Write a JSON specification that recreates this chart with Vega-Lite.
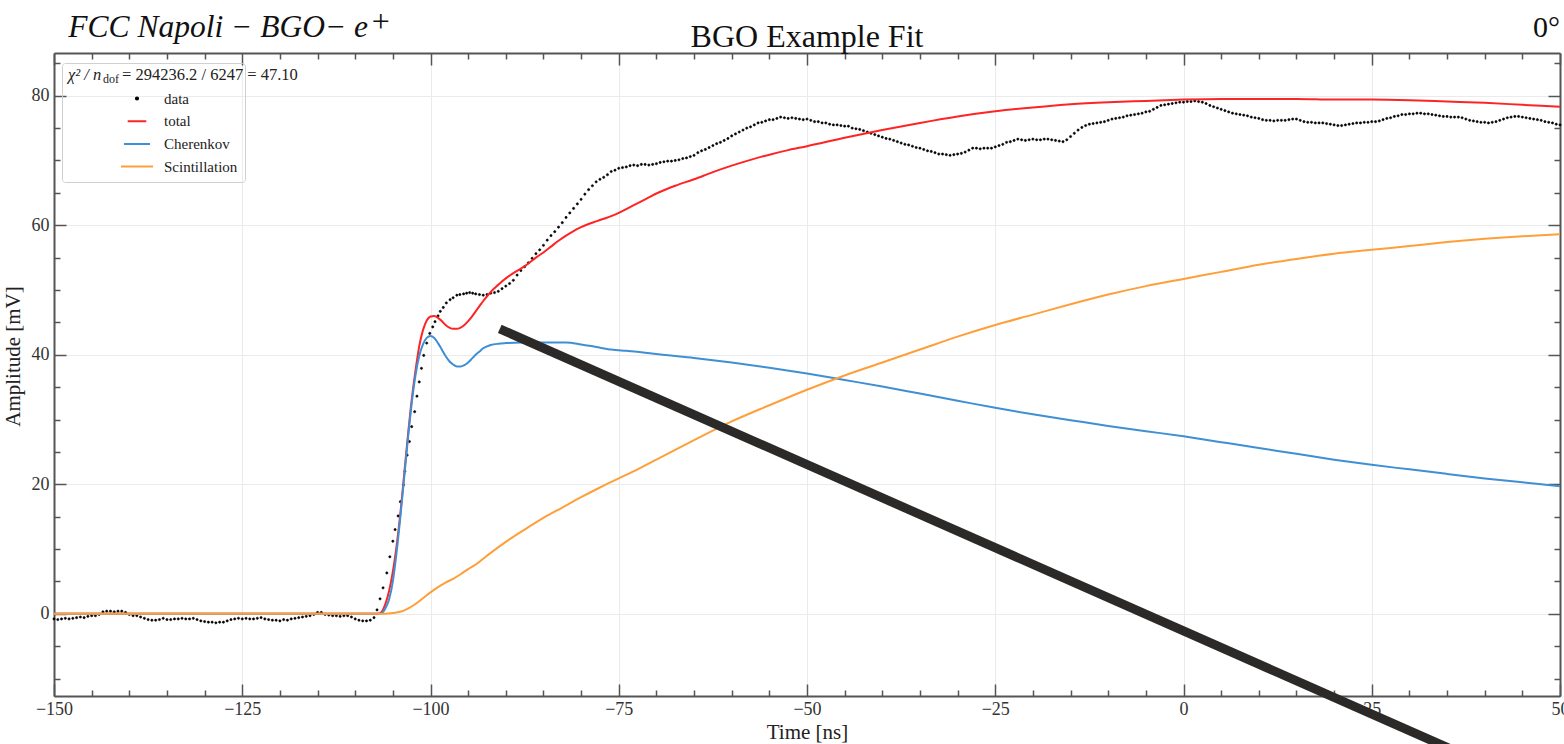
{
  "$schema": "https://vega.github.io/schema/vega-lite/v6.json",
  "width": 1506,
  "height": 643,
  "autosize": {"type": "none"},
  "padding": {"left": 54, "top": 53, "right": 4, "bottom": 48},
  "background": "white",
  "config": {"font": "Liberation Serif", "view": {"stroke": null}},
  "datasets": {
    "measured": [
      {"t":-150,"v":-0.8},{"t":-149.5,"v":-0.9},{"t":-149,"v":-0.8},{"t":-148.5,"v":-0.7},{"t":-148,"v":-0.8},{"t":-147.5,"v":-0.7},{"t":-147,"v":-0.6},{"t":-146.5,"v":-0.5},{"t":-146,"v":-0.6},{"t":-145.5,"v":-0.4},{"t":-145,"v":-0.3},{"t":-144.5,"v":-0.3},{"t":-144,"v":-0.1},{"t":-143.5,"v":0.3},{"t":-143,"v":0.4},{"t":-142.5,"v":0.4},{"t":-142,"v":0.3},{"t":-141.5,"v":0.4},{"t":-141,"v":0.4},{"t":-140.5,"v":0.2},{"t":-140,"v":-0.1},{"t":-139.5,"v":-0.3},{"t":-139,"v":-0.3},{"t":-138.5,"v":-0.5},{"t":-138,"v":-0.7},{"t":-137.5,"v":-0.9},{"t":-137,"v":-1.0},{"t":-136.5,"v":-1.0},{"t":-136,"v":-0.9},{"t":-135.5,"v":-0.7},{"t":-135,"v":-0.9},{"t":-134.5,"v":-0.9},{"t":-134,"v":-0.8},{"t":-133.5,"v":-0.8},{"t":-133,"v":-0.7},{"t":-132.5,"v":-0.8},{"t":-132,"v":-0.8},{"t":-131.5,"v":-0.7},{"t":-131,"v":-0.9},{"t":-130.5,"v":-1.1},{"t":-130,"v":-1.2},{"t":-129.5,"v":-1.3},{"t":-129,"v":-1.3},{"t":-128.5,"v":-1.4},{"t":-128,"v":-1.3},{"t":-127.5,"v":-1.3},{"t":-127,"v":-1.1},{"t":-126.5,"v":-0.9},{"t":-126,"v":-0.8},{"t":-125.5,"v":-0.7},{"t":-125,"v":-0.8},{"t":-124.5,"v":-0.7},{"t":-124,"v":-0.8},{"t":-123.5,"v":-0.8},{"t":-123,"v":-0.7},{"t":-122.5,"v":-0.6},{"t":-122,"v":-0.8},{"t":-121.5,"v":-0.9},{"t":-121,"v":-1.0},{"t":-120.5,"v":-1.0},{"t":-120,"v":-1.1},{"t":-119.5,"v":-0.9},{"t":-119,"v":-1.0},{"t":-118.5,"v":-0.8},{"t":-118,"v":-0.7},{"t":-117.5,"v":-0.6},{"t":-117,"v":-0.5},{"t":-116.5,"v":-0.4},{"t":-116,"v":-0.3},{"t":-115.5,"v":-0.1},{"t":-115,"v":0.2},{"t":-114.5,"v":0.2},{"t":-114,"v":-0.1},{"t":-113.5,"v":-0.2},{"t":-113,"v":-0.3},{"t":-112.5,"v":-0.3},{"t":-112,"v":-0.4},{"t":-111.5,"v":-0.3},{"t":-111,"v":-0.3},{"t":-110.5,"v":-0.5},{"t":-110,"v":-0.8},{"t":-109.5,"v":-1.0},{"t":-109,"v":-1.1},{"t":-108.5,"v":-1.1},{"t":-108,"v":-1.0},{"t":-107.5,"v":-0.6},
      {"t":-107.1,"v":0.6},{"t":-106.7,"v":2.3},{"t":-106.3,"v":4.0},{"t":-105.8,"v":6.3},{"t":-105.4,"v":8.8},{"t":-105.0,"v":11.2},{"t":-104.7,"v":13.0},{"t":-104.3,"v":15.1},{"t":-104.0,"v":17.3},{"t":-103.6,"v":19.9},{"t":-103.4,"v":22.0},{"t":-103.1,"v":24.5},{"t":-102.8,"v":26.6},{"t":-102.5,"v":28.9},{"t":-102.1,"v":31.2},{"t":-101.8,"v":33.6},{"t":-101.5,"v":35.8},{"t":-101.2,"v":37.9},{"t":-100.9,"v":39.9},{"t":-100.5,"v":41.8},{"t":-100.1,"v":43.3},{"t":-99.7,"v":44.3},{"t":-99.4,"v":45.1},{"t":-99.0,"v":46.0},{"t":-98.7,"v":46.7},{"t":-98.3,"v":47.3},{"t":-97.9,"v":48.0},{"t":-97.4,"v":48.5},{"t":-97.0,"v":48.8},{"t":-96.5,"v":49.2},{"t":-96.1,"v":49.3},{"t":-95.6,"v":49.4},{"t":-95.2,"v":49.5},{"t":-94.8,"v":49.6},{"t":-94.4,"v":49.5},{"t":-94.0,"v":49.4},{"t":-93.5,"v":49.3},{"t":-93.0,"v":49.2},{"t":-92.5,"v":49.3},{"t":-92.0,"v":49.5},{"t":-91.5,"v":49.6},{"t":-91.0,"v":49.8},{"t":-90.5,"v":50.2},{"t":-90.0,"v":50.6},
      {"t":-89.5,"v":51.0},{"t":-89,"v":51.5},{"t":-88.5,"v":52.3},{"t":-88,"v":53.0},{"t":-87.5,"v":53.6},{"t":-87,"v":54.2},{"t":-86.5,"v":54.9},{"t":-86,"v":55.6},{"t":-85.5,"v":56.2},{"t":-85,"v":56.9},{"t":-84.5,"v":57.7},{"t":-84,"v":58.4},{"t":-83.5,"v":59.0},{"t":-83,"v":59.7},{"t":-82.5,"v":60.4},{"t":-82,"v":61.2},{"t":-81.5,"v":61.9},{"t":-81,"v":62.6},{"t":-80.5,"v":63.3},{"t":-80,"v":64.0},{"t":-79.5,"v":64.8},{"t":-79,"v":65.5},{"t":-78.5,"v":66.1},{"t":-78,"v":66.7},{"t":-77.5,"v":67.1},{"t":-77,"v":67.4},{"t":-76.5,"v":67.8},{"t":-76,"v":68.3},{"t":-75.5,"v":68.5},{"t":-75,"v":68.8},{"t":-74.5,"v":68.9},{"t":-74,"v":69.0},{"t":-73.5,"v":69.2},{"t":-73,"v":69.3},{"t":-72.5,"v":69.2},{"t":-72,"v":69.4},{"t":-71.5,"v":69.4},{"t":-71,"v":69.3},{"t":-70.5,"v":69.4},{"t":-70,"v":69.5},{"t":-69.5,"v":69.7},{"t":-69,"v":69.8},{"t":-68.5,"v":69.9},{"t":-68,"v":69.9},{"t":-67.5,"v":70.0},{"t":-67,"v":70.1},{"t":-66.5,"v":70.3},{"t":-66,"v":70.4},{"t":-65.5,"v":70.6},{"t":-65,"v":70.8},{"t":-64.5,"v":71.2},{"t":-64,"v":71.5},{"t":-63.5,"v":71.7},{"t":-63,"v":72.0},{"t":-62.5,"v":72.3},{"t":-62,"v":72.6},{"t":-61.5,"v":72.8},{"t":-61,"v":73.1},{"t":-60.5,"v":73.4},{"t":-60,"v":73.8},{"t":-59.5,"v":74.1},{"t":-59,"v":74.4},{"t":-58.5,"v":74.7},{"t":-58,"v":75.0},{"t":-57.5,"v":75.2},{"t":-57,"v":75.5},{"t":-56.5,"v":75.8},{"t":-56,"v":75.9},{"t":-55.5,"v":76.1},{"t":-55,"v":76.3},{"t":-54.5,"v":76.3},{"t":-54,"v":76.5},{"t":-53.5,"v":76.7},{"t":-53,"v":76.6},{"t":-52.5,"v":76.5},{"t":-52,"v":76.6},{"t":-51.5,"v":76.5},{"t":-51,"v":76.4},{"t":-50.5,"v":76.3},{"t":-50,"v":76.4},{"t":-49.5,"v":76.2},{"t":-49,"v":76.0},{"t":-48.5,"v":76.0},{"t":-48,"v":75.8},{"t":-47.5,"v":75.8},{"t":-47,"v":75.6},{"t":-46.5,"v":75.5},{"t":-46,"v":75.5},{"t":-45.5,"v":75.4},{"t":-45,"v":75.3},{"t":-44.5,"v":75.3},{"t":-44,"v":75.0},{"t":-43.5,"v":74.9},{"t":-43,"v":74.8},{"t":-42.5,"v":74.6},{"t":-42,"v":74.4},{"t":-41.5,"v":74.2},{"t":-41,"v":74.0},{"t":-40.5,"v":73.8},{"t":-40,"v":73.6},{"t":-39.5,"v":73.4},{"t":-39,"v":73.3},{"t":-38.5,"v":73.1},{"t":-38,"v":72.9},{"t":-37.5,"v":72.7},{"t":-37,"v":72.5},{"t":-36.5,"v":72.4},{"t":-36,"v":72.2},{"t":-35.5,"v":72.0},{"t":-35,"v":71.9},{"t":-34.5,"v":71.7},{"t":-34,"v":71.5},{"t":-33.5,"v":71.4},{"t":-33,"v":71.2},{"t":-32.5,"v":71.0},{"t":-32,"v":71.0},{"t":-31.5,"v":70.9},{"t":-31,"v":70.8},{"t":-30.5,"v":70.9},{"t":-30,"v":71.0},{"t":-29.5,"v":71.1},{"t":-29,"v":71.3},{"t":-28.5,"v":71.6},{"t":-28,"v":71.9},{"t":-27.5,"v":71.9},{"t":-27,"v":71.8},{"t":-26.5,"v":71.9},{"t":-26,"v":71.9},{"t":-25.5,"v":71.9},{"t":-25,"v":72.1},{"t":-24.5,"v":72.3},{"t":-24,"v":72.5},{"t":-23.5,"v":72.8},{"t":-23,"v":72.9},{"t":-22.5,"v":73.1},{"t":-22,"v":73.3},{"t":-21.5,"v":73.2},{"t":-21,"v":73.1},{"t":-20.5,"v":73.2},{"t":-20,"v":73.3},{"t":-19.5,"v":73.2},{"t":-19,"v":73.2},{"t":-18.5,"v":73.3},{"t":-18,"v":73.3},{"t":-17.5,"v":73.2},{"t":-17,"v":73.1},{"t":-16.5,"v":73.0},{"t":-16,"v":72.9},{"t":-15.5,"v":73.2},{"t":-15,"v":73.7},{"t":-14.5,"v":74.2},{"t":-14,"v":74.7},{"t":-13.5,"v":75.1},{"t":-13,"v":75.4},{"t":-12.5,"v":75.6},{"t":-12,"v":75.7},{"t":-11.5,"v":75.8},{"t":-11,"v":75.9},{"t":-10.5,"v":76.0},{"t":-10,"v":76.2},{"t":-9.5,"v":76.4},{"t":-9,"v":76.5},{"t":-8.5,"v":76.6},{"t":-8,"v":76.7},{"t":-7.5,"v":76.9},{"t":-7,"v":77.0},{"t":-6.5,"v":77.1},{"t":-6,"v":77.2},{"t":-5.5,"v":77.3},{"t":-5,"v":77.5},{"t":-4.5,"v":77.6},{"t":-4,"v":77.9},{"t":-3.5,"v":78.2},{"t":-3,"v":78.5},{"t":-2.5,"v":78.6},{"t":-2,"v":78.7},{"t":-1.5,"v":78.8},{"t":-1,"v":78.9},{"t":-0.5,"v":79.0},{"t":0,"v":79.0},{"t":0.5,"v":79.1},{"t":1,"v":79.1},{"t":1.5,"v":79.2},{"t":2,"v":79.1},{"t":2.5,"v":79.0},{"t":3,"v":78.8},{"t":3.5,"v":78.5},{"t":4,"v":78.3},{"t":4.5,"v":78.1},{"t":5,"v":77.9},{"t":5.5,"v":77.7},{"t":6,"v":77.5},{"t":6.5,"v":77.3},{"t":7,"v":77.2},{"t":7.5,"v":77.1},{"t":8,"v":77.0},{"t":8.5,"v":76.9},{"t":9,"v":76.7},{"t":9.5,"v":76.6},{"t":10,"v":76.5},{"t":10.5,"v":76.3},{"t":11,"v":76.2},{"t":11.5,"v":76.2},{"t":12,"v":76.1},{"t":12.5,"v":76.2},{"t":13,"v":76.2},{"t":13.5,"v":76.2},{"t":14,"v":76.3},{"t":14.5,"v":76.4},{"t":15,"v":76.4},{"t":15.5,"v":76.2},{"t":16,"v":76.0},{"t":16.5,"v":75.9},{"t":17,"v":75.9},{"t":17.5,"v":75.8},{"t":18,"v":75.8},{"t":18.5,"v":75.8},{"t":19,"v":75.7},{"t":19.5,"v":75.6},{"t":20,"v":75.5},{"t":20.5,"v":75.4},{"t":21,"v":75.4},{"t":21.5,"v":75.5},{"t":22,"v":75.6},{"t":22.5,"v":75.7},{"t":23,"v":75.8},{"t":23.5,"v":75.8},{"t":24,"v":75.9},{"t":24.5,"v":75.9},{"t":25,"v":76.0},{"t":25.5,"v":76.0},{"t":26,"v":76.1},{"t":26.5,"v":76.3},{"t":27,"v":76.5},{"t":27.5,"v":76.6},{"t":28,"v":76.8},{"t":28.5,"v":76.9},{"t":29,"v":77.1},{"t":29.5,"v":77.1},{"t":30,"v":77.2},{"t":30.5,"v":77.2},{"t":31,"v":77.3},{"t":31.5,"v":77.3},{"t":32,"v":77.2},{"t":32.5,"v":77.2},{"t":33,"v":77.1},{"t":33.5,"v":77.0},{"t":34,"v":76.9},{"t":34.5,"v":76.8},{"t":35,"v":76.8},{"t":35.5,"v":76.7},{"t":36,"v":76.7},{"t":36.5,"v":76.7},{"t":37,"v":76.6},{"t":37.5,"v":76.4},{"t":38,"v":76.2},{"t":38.5,"v":76.1},{"t":39,"v":76.0},{"t":39.5,"v":75.9},{"t":40,"v":75.9},{"t":40.5,"v":75.8},{"t":41,"v":75.9},{"t":41.5,"v":76.0},{"t":42,"v":76.2},{"t":42.5,"v":76.4},{"t":43,"v":76.6},{"t":43.5,"v":76.7},{"t":44,"v":76.8},{"t":44.5,"v":76.8},{"t":45,"v":76.7},{"t":45.5,"v":76.6},{"t":46,"v":76.5},{"t":46.5,"v":76.4},{"t":47,"v":76.3},{"t":47.5,"v":76.2},{"t":48,"v":76.0},{"t":48.5,"v":75.9},{"t":49,"v":75.8},{"t":49.5,"v":75.6},{"t":50,"v":75.5}
    ],
    "total": [
      {"t":-150,"v":0},{"t":-107,"v":0},{"t":-106.5,"v":0.3},{"t":-106,"v":1.5},{"t":-105.5,"v":3.5},{"t":-105,"v":6.5},{"t":-104.5,"v":10.5},{"t":-104,"v":15.5},{"t":-103.5,"v":21.5},{"t":-103,"v":27.5},{"t":-102.5,"v":33},{"t":-102,"v":37.5},{"t":-101.5,"v":41.3},{"t":-101,"v":43.8},{"t":-100.5,"v":45.3},{"t":-100,"v":45.9},{"t":-99.5,"v":46.0},{"t":-99,"v":45.7},{"t":-98.5,"v":45.2},{"t":-98,"v":44.6},{"t":-97.5,"v":44.2},{"t":-97,"v":44.0},{"t":-96.5,"v":44.0},{"t":-96,"v":44.2},{"t":-95.5,"v":44.6},{"t":-95,"v":45.2},{"t":-94.5,"v":45.9},{"t":-94,"v":46.7},{"t":-93.5,"v":47.5},{"t":-93,"v":48.3},{"t":-92.5,"v":49.0},{"t":-92,"v":49.7},{"t":-91,"v":50.8},{"t":-90,"v":51.8},{"t":-89,"v":52.6},{"t":-88,"v":53.3},{"t":-87,"v":54.1},{"t":-86,"v":55.0},{"t":-85,"v":55.8},{"t":-84,"v":56.7},{"t":-83,"v":57.6},{"t":-82,"v":58.4},{"t":-81,"v":59.1},{"t":-80,"v":59.7},{"t":-79,"v":60.2},{"t":-78,"v":60.6},{"t":-77,"v":61.0},{"t":-76,"v":61.4},{"t":-75,"v":61.9},{"t":-74,"v":62.5},{"t":-73,"v":63.1},{"t":-72,"v":63.7},{"t":-71,"v":64.3},{"t":-70,"v":64.9},{"t":-67.5,"v":66.1},{"t":-65,"v":67.1},{"t":-62.5,"v":68.2},{"t":-60,"v":69.2},{"t":-57.5,"v":70.1},{"t":-55,"v":70.9},{"t":-52.5,"v":71.6},{"t":-50,"v":72.2},{"t":-45,"v":73.5},{"t":-40,"v":74.7},{"t":-35,"v":75.8},{"t":-30,"v":76.8},{"t":-25,"v":77.6},{"t":-20,"v":78.2},{"t":-15,"v":78.7},{"t":-10,"v":79.0},{"t":-5,"v":79.2},{"t":0,"v":79.4},{"t":5,"v":79.5},{"t":10,"v":79.5},{"t":15,"v":79.5},{"t":20,"v":79.4},{"t":25,"v":79.4},{"t":30,"v":79.3},{"t":35,"v":79.1},{"t":40,"v":78.9},{"t":45,"v":78.6},{"t":50,"v":78.3}
    ],
    "cherenkov": [
      {"t":-150,"v":0},{"t":-107,"v":0},{"t":-106.5,"v":0.1},{"t":-106,"v":0.8},{"t":-105.5,"v":2.2},{"t":-105,"v":5.0},{"t":-104.5,"v":9.5},{"t":-104,"v":15.0},{"t":-103.5,"v":21.0},{"t":-103,"v":27.0},{"t":-102.5,"v":32.5},{"t":-102,"v":36.8},{"t":-101.5,"v":39.8},{"t":-101,"v":41.6},{"t":-100.5,"v":42.6},{"t":-100,"v":42.9},{"t":-99.5,"v":42.6},{"t":-99,"v":41.8},{"t":-98.5,"v":40.8},{"t":-98,"v":39.8},{"t":-97.5,"v":39.0},{"t":-97,"v":38.5},{"t":-96.5,"v":38.2},{"t":-96,"v":38.2},{"t":-95.5,"v":38.4},{"t":-95,"v":38.8},{"t":-94.5,"v":39.4},{"t":-94,"v":40.0},{"t":-93.5,"v":40.5},{"t":-93,"v":41.0},{"t":-92.5,"v":41.3},{"t":-92,"v":41.5},{"t":-91,"v":41.7},{"t":-90,"v":41.8},{"t":-88,"v":41.9},{"t":-85,"v":41.9},{"t":-82,"v":41.9},{"t":-80,"v":41.6},{"t":-78,"v":41.2},{"t":-76,"v":40.8},{"t":-74,"v":40.6},{"t":-72,"v":40.4},{"t":-70,"v":40.1},{"t":-65,"v":39.5},{"t":-60,"v":38.8},{"t":-55,"v":38.0},{"t":-50,"v":37.1},{"t":-45,"v":36.1},{"t":-40,"v":35.1},{"t":-35,"v":34.0},{"t":-30,"v":32.9},{"t":-25,"v":31.8},{"t":-20,"v":30.8},{"t":-15,"v":29.9},{"t":-10,"v":29.0},{"t":-5,"v":28.2},{"t":0,"v":27.4},{"t":5,"v":26.5},{"t":10,"v":25.6},{"t":15,"v":24.7},{"t":20,"v":23.8},{"t":25,"v":23.0},{"t":30,"v":22.3},{"t":35,"v":21.6},{"t":40,"v":20.9},{"t":45,"v":20.3},{"t":50,"v":19.7}
    ],
    "scintillation": [
      {"t":-150,"v":0},{"t":-106,"v":0},{"t":-105,"v":0.1},{"t":-104,"v":0.3},{"t":-103,"v":0.8},{"t":-102,"v":1.5},{"t":-101,"v":2.4},{"t":-100,"v":3.3},{"t":-99,"v":4.1},{"t":-98,"v":4.8},{"t":-97,"v":5.4},{"t":-96,"v":6.1},{"t":-95,"v":6.9},{"t":-94,"v":7.6},{"t":-93,"v":8.5},{"t":-92,"v":9.4},{"t":-90,"v":11.1},{"t":-87.5,"v":13.0},{"t":-85,"v":14.8},{"t":-82.5,"v":16.4},{"t":-80,"v":18.0},{"t":-77.5,"v":19.5},{"t":-75,"v":20.9},{"t":-72.5,"v":22.3},{"t":-70,"v":23.8},{"t":-65,"v":26.8},{"t":-60,"v":29.7},{"t":-55,"v":32.2},{"t":-50,"v":34.6},{"t":-45,"v":36.8},{"t":-40,"v":38.8},{"t":-35,"v":40.8},{"t":-30,"v":42.8},{"t":-25,"v":44.6},{"t":-20,"v":46.2},{"t":-15,"v":47.8},{"t":-10,"v":49.3},{"t":-5,"v":50.6},{"t":0,"v":51.7},{"t":5,"v":52.8},{"t":10,"v":53.9},{"t":15,"v":54.8},{"t":20,"v":55.6},{"t":25,"v":56.2},{"t":30,"v":56.8},{"t":35,"v":57.4},{"t":40,"v":57.9},{"t":45,"v":58.3},{"t":50,"v":58.6}
    ],
    "stroke": [
      {"t":-90.8,"v":44.0},{"t":36.7,"v":-21.5}
    ]
  },
  "resolve": {"axis": {"x": "independent", "y": "independent"}},
  "layer": [
    {
      "data": {"name": "measured"},
      "mark": {"type": "point", "filled": true, "opacity": 1, "stroke": "#000000", "strokeWidth": 0.6},
      "encoding": {
        "x": {"field": "t", "type": "quantitative",
          "scale": {"domain": [-150, 50], "nice": false, "zero": false},
          "axis": {"orient": "bottom",
            "values": [-150,-145,-140,-135,-130,-125,-120,-115,-110,-105,-100,-95,-90,-85,-80,-75,-70,-65,-60,-55,-50,-45,-40,-35,-30,-25,-20,-15,-10,-5,0,5,10,15,20,25,30,35,40,45,50],
            "labelExpr": "datum.value % 25 === 0 ? datum.label : ''",
            "tickSize": {"condition": {"test": "datum.value % 25 === 0", "value": -12}, "value": -6},
            "labelPadding": 16, "labelFontSize": 18, "labelFont": "Liberation Serif", "labelColor": "#333",
            "labelOverlap": false, "labelFlush": false,
            "grid": true, "gridColor": "#ebebeb", "gridWidth": 1,
            "gridOpacity": {"condition": {"test": "datum.value % 25 === 0", "value": 1}, "value": 0},
            "domainColor": "#555", "domainWidth": 2, "tickColor": "#555", "tickWidth": 1.5,
            "title": "Time [ns]", "titleFontSize": 21, "titleFont": "Liberation Serif", "titleFontWeight": "normal", "titleColor": "#222", "titlePadding": -3}},
        "y": {"field": "v", "type": "quantitative",
          "scale": {"domain": [-12.7, 86.6], "nice": false, "zero": false},
          "axis": {"orient": "left",
            "values": [-10,-5,0,5,10,15,20,25,30,35,40,45,50,55,60,65,70,75,80,85],
            "labelExpr": "datum.value % 20 === 0 && datum.value >= 0 ? datum.label : ''",
            "tickSize": {"condition": {"test": "datum.value % 20 === 0", "value": -12}, "value": -6},
            "labelPadding": 17, "labelFontSize": 18, "labelFont": "Liberation Serif", "labelColor": "#333",
            "labelOverlap": false, "labelFlush": false,
            "grid": true, "gridColor": "#ebebeb", "gridWidth": 1,
            "gridOpacity": {"condition": {"test": "datum.value % 20 === 0", "value": 1}, "value": 0},
            "domainColor": "#555", "domainWidth": 2, "tickColor": "#555", "tickWidth": 1.5,
            "title": "Amplitude [mV]", "titleFontSize": 21, "titleFont": "Liberation Serif", "titleFontWeight": "normal", "titleColor": "#222", "titlePadding": 8, "titleY": 303}},
        "color": {"datum": "data",
          "scale": {"domain": ["data", "total", "Cherenkov", "Scintillation"], "range": ["#000000", "#ff2424", "#3f8fd4", "#ff9f3a"]},
          "legend": {
            "orient": "none", "legendX": 8, "legendY": 10,
            "title": "\u2003\u2003\u2003\u2003\u2003\u2003\u2003\u2003\u2003\u2003\u2003\u2003\u2003\u2003\u2003\u2003\u2003\u2003\u2003",
            "titleLimit": 500, "titleOpacity": 0,
            "titleFontSize": 16.5, "titleFont": "Liberation Serif", "titleFontWeight": "normal", "titleColor": "#222", "titlePadding": 4,
            "labelFontSize": 15, "labelFont": "Liberation Serif", "labelColor": "#222", "labelLimit": 400,
            "labelExpr": "datum.label + '\u00a0\u00a0\u00a0\u00a0\u00a0\u00a0\u00a0\u00a0\u00a0\u00a0\u00a0\u00a0\u00a0\u00a0\u00a0\u00a0\u00a0'",
            "symbolStrokeWidth": 2,
            "clipHeight": 16,
            "symbolOffset": 51, "labelOffset": 10, "rowPadding": 6.7,
            "strokeColor": "#d0d0d0", "fillColor": "transparent", "cornerRadius": 3, "padding": 7
          }},
        "shape": {"datum": "data",
          "scale": {"domain": ["data", "total", "Cherenkov", "Scintillation"], "range": ["circle", "stroke", "stroke", "stroke"]}},
        "size": {"datum": "data",
          "scale": {"domain": ["data", "total", "Cherenkov", "Scintillation"], "range": [5, 1024, 1024, 1024]}}
      }
    },
    {
      "data": {"name": "total"},
      "mark": {"type": "line", "strokeWidth": 2, "interpolate": "monotone"},
      "encoding": {
        "x": {"field": "t", "type": "quantitative",
          "axis": {"orient": "top",
            "values": [-150,-145,-140,-135,-130,-125,-120,-115,-110,-105,-100,-95,-90,-85,-80,-75,-70,-65,-60,-55,-50,-45,-40,-35,-30,-25,-20,-15,-10,-5,0,5,10,15,20,25,30,35,40,45,50],
            "labels": false, "grid": false, "title": null,
            "tickSize": {"condition": {"test": "datum.value % 25 === 0", "value": -12}, "value": -6},
            "domainColor": "#555", "domainWidth": 2, "tickColor": "#555", "tickWidth": 1.5}},
        "y": {"field": "v", "type": "quantitative",
          "axis": {"orient": "right",
            "values": [-10,-5,0,5,10,15,20,25,30,35,40,45,50,55,60,65,70,75,80,85],
            "labels": false, "grid": false, "title": null,
            "tickSize": {"condition": {"test": "datum.value % 20 === 0", "value": -12}, "value": -6},
            "domainColor": "#555", "domainWidth": 2, "tickColor": "#555", "tickWidth": 1.5}},
        "color": {"datum": "total"}
      }
    },
    {
      "data": {"name": "cherenkov"},
      "mark": {"type": "line", "strokeWidth": 2, "interpolate": "monotone"},
      "encoding": {
        "x": {"field": "t", "type": "quantitative", "axis": null},
        "y": {"field": "v", "type": "quantitative", "axis": null},
        "color": {"datum": "Cherenkov"}
      }
    },
    {
      "data": {"name": "scintillation"},
      "mark": {"type": "line", "strokeWidth": 2, "interpolate": "monotone"},
      "encoding": {
        "x": {"field": "t", "type": "quantitative", "axis": null},
        "y": {"field": "v", "type": "quantitative", "axis": null},
        "color": {"datum": "Scintillation"}
      }
    },
    {
      "data": {"name": "stroke"},
      "mark": {"type": "line", "strokeWidth": 9, "color": "#2b2a29", "strokeCap": "butt", "clip": false},
      "encoding": {
        "x": {"field": "t", "type": "quantitative", "axis": null},
        "y": {"field": "v", "type": "quantitative", "axis": null}
      }
    },
    {
      "data": {"values": [{}]},
      "mark": {"type": "text", "text": "BGO Example Fit", "font": "Liberation Serif", "fontSize": 32, "align": "center", "baseline": "alphabetic", "color": "#111"},
      "encoding": {
        "x": {"datum": -50, "type": "quantitative", "axis": null},
        "y": {"datum": 87.6, "type": "quantitative", "axis": null}
      }
    },
    {
      "data": {"values": [{}]},
      "mark": {"type": "text", "text": "FCC Napoli − BGO− e", "font": "Liberation Serif", "fontStyle": "italic", "fontSize": 31.5, "align": "left", "baseline": "alphabetic", "color": "#111"},
      "encoding": {
        "x": {"datum": -148.1, "type": "quantitative", "axis": null},
        "y": {"datum": 89.0, "type": "quantitative", "axis": null}
      }
    },
    {
      "data": {"values": [{}]},
      "mark": {"type": "text", "text": "+", "font": "Liberation Serif", "fontSize": 32, "align": "left", "baseline": "alphabetic", "color": "#111"},
      "encoding": {
        "x": {"datum": -107.8, "type": "quantitative", "axis": null},
        "y": {"datum": 89.9, "type": "quantitative", "axis": null}
      }
    },
    {
      "data": {"values": [{}]},
      "mark": {"type": "text", "text": "0°", "font": "Liberation Serif", "fontSize": 30, "align": "right", "baseline": "alphabetic", "color": "#111"},
      "encoding": {
        "x": {"datum": 50, "type": "quantitative", "axis": null},
        "y": {"datum": 89.0, "type": "quantitative", "axis": null}
      }
    },
    {
      "data": {"values": [{}]},
      "mark": {"type": "text", "text": "χ² / n", "font": "Liberation Serif", "fontStyle": "italic", "fontSize": 16.5, "align": "left", "baseline": "alphabetic", "color": "#222"},
      "encoding": {
        "x": {"datum": -148.14, "type": "quantitative", "axis": null},
        "y": {"datum": 82.4, "type": "quantitative", "axis": null}
      }
    },
    {
      "data": {"values": [{}]},
      "mark": {"type": "text", "text": "dof", "font": "Liberation Serif", "fontSize": 12, "align": "left", "baseline": "alphabetic", "color": "#222"},
      "encoding": {
        "x": {"datum": -143.49, "type": "quantitative", "axis": null},
        "y": {"datum": 81.9, "type": "quantitative", "axis": null}
      }
    },
    {
      "data": {"values": [{}]},
      "mark": {"type": "text", "text": "= 294236.2 / 6247 = 47.10", "font": "Liberation Serif", "fontSize": 16.5, "align": "left", "baseline": "alphabetic", "color": "#222"},
      "encoding": {
        "x": {"datum": -140.97, "type": "quantitative", "axis": null},
        "y": {"datum": 82.4, "type": "quantitative", "axis": null}
      }
    }
  ]
}
